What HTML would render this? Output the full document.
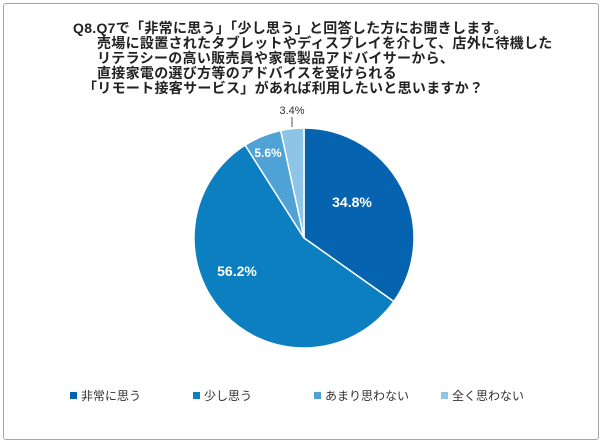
<!DOCTYPE html>
<html><head><meta charset="utf-8"><style>
body{margin:0;width:602px;height:443px;background:#fff;overflow:hidden;font-family:"Liberation Sans","Noto Sans CJK JP",sans-serif;}
.frame{position:absolute;left:3px;top:3px;width:594px;height:435px;border:1px solid #a6a6a6;border-radius:3px;}
.t{position:absolute;font-weight:bold;font-size:14px;letter-spacing:0.3px;color:#222;white-space:nowrap;line-height:15px;}
.lg{position:absolute;top:387px;font-size:12px;color:#333;white-space:nowrap;}
.lg span{display:inline-block;width:7px;height:7px;margin-right:4px;vertical-align:1px;}
</style></head><body>
<div class="frame"></div>
<div class="t" style="left:73px;top:21px">Q8.Q7で「非常に思う」「少し思う」と回答した方にお聞きします。</div>
<div class="t" style="left:97px;top:36px">売場に設置されたタブレットやディスプレイを介して、店外に待機した</div>
<div class="t" style="left:97px;top:51px">リテラシーの高い販売員や家電製品アドバイサーから、</div>
<div class="t" style="left:97px;top:66px">直接家電の選び方等のアドバイスを受けられる</div>
<div class="t" style="left:83px;top:81px">「リモート接客サービス」があれば利用したいと思いますか？</div>
<svg width="602" height="443" style="position:absolute;left:0;top:0">
<g stroke="#fff" stroke-width="1.5">
<path d="M304,238 L304,128 A110,110 0 0 1 393.8,301.5 Z" fill="#0563b0"/>
<path d="M304,238 L393.8,301.5 A110,110 0 1 1 245.1,145.1 Z" fill="#0b7fc0"/>
<path d="M304,238 L245.1,145.1 A110,110 0 0 1 280.7,130.5 Z" fill="#4ea2d6"/>
<path d="M304,238 L280.7,130.5 A110,110 0 0 1 304,128 Z" fill="#8ec4e6"/>
</g>
<line x1="292" y1="117" x2="292" y2="127" stroke="#555" stroke-width="1"/>
<text x="292" y="114" font-size="11" fill="#333" text-anchor="middle" font-family="Liberation Sans, sans-serif">3.4%</text>
<g fill="#fff" font-weight="bold" font-size="14" font-family="Liberation Sans, sans-serif" text-anchor="middle">
<text x="352" y="207">34.8%</text>
<text x="237" y="276">56.2%</text>
<text x="268" y="157" font-size="12">5.6%</text>
</g>
</svg>
<div class="lg" style="left:70px"><span style="background:#0563b0"></span>非常に思う</div>
<div class="lg" style="left:193px"><span style="background:#0b7fc0"></span>少し思う</div>
<div class="lg" style="left:314px"><span style="background:#4ea2d6"></span>あまり思わない</div>
<div class="lg" style="left:441px"><span style="background:#8ec4e6"></span>全く思わない</div>
</body></html>
